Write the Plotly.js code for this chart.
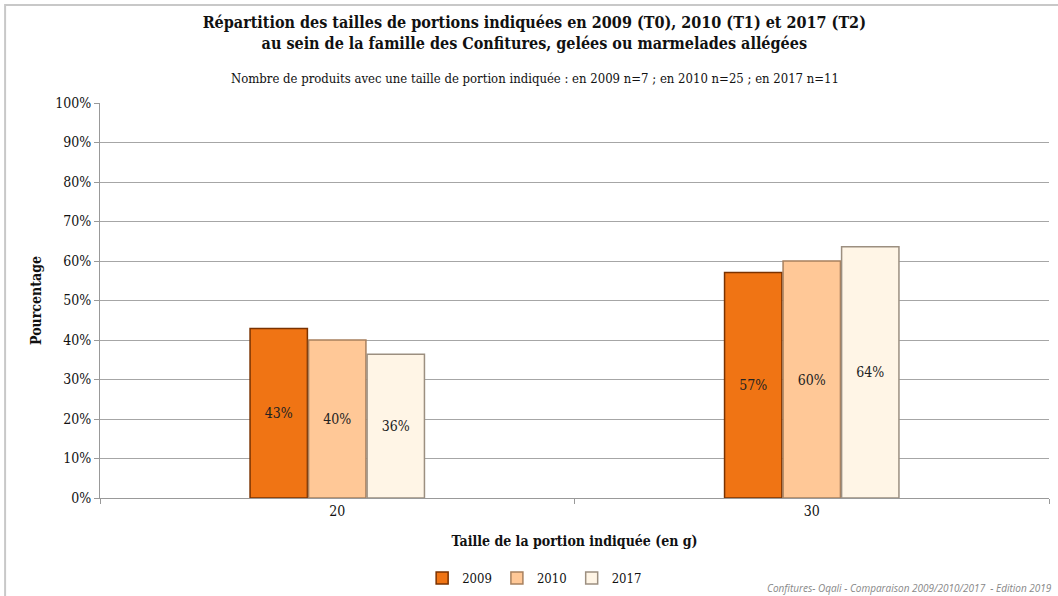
<!DOCTYPE html>
<html><head><meta charset="utf-8">
<script src="https://cdn.plot.ly/plotly-3.0.1.min.js"></script>
<style>body{margin:0;padding:0;background:#fff}#chart{width:1058px;height:596px}</style>
</head><body><div id="chart"></div>
<script>
const categories = ['20', '30'];
const series2009 = [42.9, 57.1];
const series2010 = [40.0, 60.0];
const series2017 = [36.4, 63.6];
const seriesNames = ['2009', '2010', '2017'];
const yTickVals = [0,10,20,30,40,50,60,70,80,90,100];
const yTickText = ['0%','10%','20%','30%','40%','50%','60%','70%','80%','90%','100%'];

const FONT = 'DejaVu Serif Condensed, DejaVu Serif, serif';
const fills = ['#F07414', '#FFC897', '#FFF5E6'];
const edges = ['#7A3200', '#A8805E', '#9C8F80'];
const data = [series2009, series2010, series2017].map((vals, i) => ({
  type: 'bar', name: seriesNames[i], x: categories, y: vals,
  marker: {color: fills[i], line: {color: edges[i], width: 1.5}},
  text: vals.map(v => Math.round(v) + '%'),
  textposition: 'inside', insidetextanchor: 'middle', textangle: 0,
  textfont: {family: FONT, size: 14, color: '#222'},
  hoverinfo: 'skip', cliponaxis: false
}));

const layout = {
  width: 1058, height: 596,
  margin: {l: 100, r: 9, t: 103, b: 98},
  paper_bgcolor: '#fff', plot_bgcolor: '#fff',
  font: {family: FONT, color: '#111'},
  barmode: 'group', bargap: 0.63, bargroupgap: 0.02,
  showlegend: true,
  legend: {orientation: 'h', x: 0.458, xanchor: 'center', yref: 'container', y: 0.03, yanchor: 'middle',
           font: {family: FONT, size: 13, color: '#111'}, tracegroupgap: 0,
           traceorder: 'normal', itemclick: false},
  xaxis: {type: 'category', showgrid: false, zeroline: false, automargin: false,
          showline: true, linecolor: '#999', linewidth: 1,
          ticks: 'outside', ticklen: 5, tickcolor: '#999', tickson: 'boundaries',
          tickfont: {family: FONT, size: 14, color: '#111'},
          title: {text: '<b>Taille de la portion indiquée (en g)</b>', font: {family: FONT, size: 14, color: '#111'}, standoff: 18}},
  yaxis: {range: [0, 100], tickvals: yTickVals, ticktext: yTickText, automargin: false,
          showgrid: true, gridcolor: '#A6A6A6', gridwidth: 1, zeroline: false,
          showline: true, linecolor: '#999', linewidth: 1,
          ticks: 'outside', ticklen: 5, tickcolor: '#999',
          tickfont: {family: FONT, size: 14, color: '#111'},
          title: {text: '<b>Pourcentage</b>', font: {family: FONT, size: 14, color: '#111'}, standoff: 10}},
  title: {text: '<b>Répartition des tailles de portions indiquées en 2009 (T0), 2010 (T1) et 2017 (T2)<br>au sein de la famille des Confitures, gelées ou marmelades allégées</b>',
          font: {family: FONT, size: 16, color: '#111'}, x: 0.505, xanchor: 'center', y: 0.953, yanchor: 'top', yref: 'container'},
  annotations: [
    {text: 'Nombre de produits avec une taille de portion indiquée : en 2009 n=7 ; en 2010 n=25 ; en 2017 n=11',
     xref: 'paper', yref: 'paper', x: 0.458, xanchor: 'center', y: 1.0, yshift: 25, yanchor: 'middle', showarrow: false,
     font: {family: FONT, size: 13, color: '#111'}},
    {text: '<i>Confitures- Oqali - Comparaison 2009/2010/2017  - Edition 2019</i>',
     xref: 'paper', yref: 'paper', x: 1, xanchor: 'right', xshift: 5, y: 0, yshift: -90, yanchor: 'middle', showarrow: false,
     font: {family: 'Open Sans, sans-serif', size: 10, color: '#888'}}
  ],
  shapes: [
    {type: 'rect', xref: 'paper', yref: 'paper', x0: -0.1, x1: 1.05, y0: -0.3, y1: 1.248,
     line: {color: '#C8C8C8', width: 2}, fillcolor: 'rgba(0,0,0,0)', layer: 'below'}
  ]
};
Plotly.newPlot('chart', data, layout, {displayModeBar: false, staticPlot: true});
</script></body></html>
